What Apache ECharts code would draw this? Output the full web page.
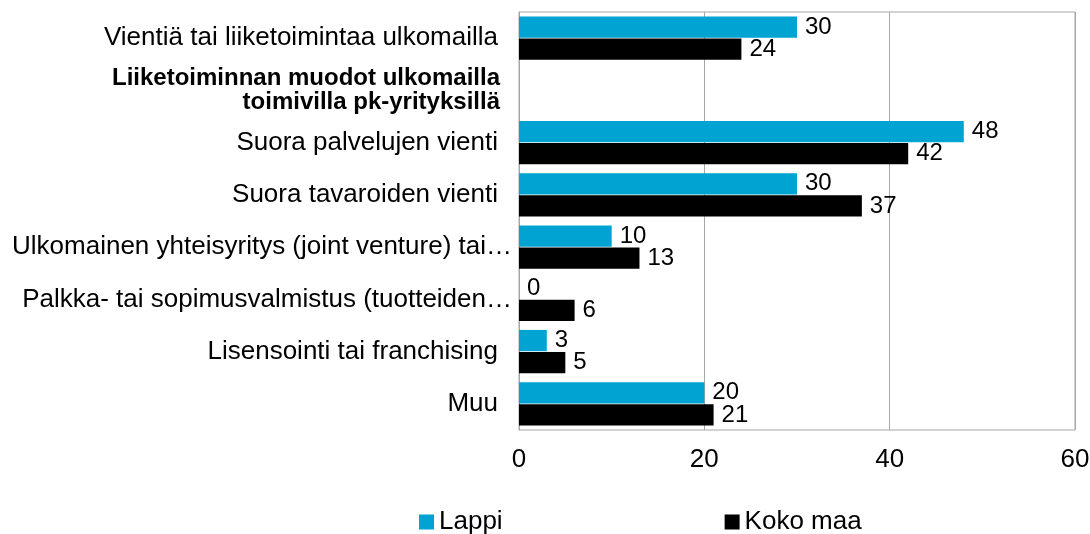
<!DOCTYPE html>
<html><head><meta charset="utf-8">
<script src="https://cdn.jsdelivr.net/npm/echarts@6/dist/echarts.min.js"></script>
<style>html,body{margin:0;padding:0;background:#fff}#c{width:1090px;height:534px}</style>
</head><body><div id="c"></div>
<script>
const categories = [
  "Vientiä tai liiketoimintaa ulkomailla",
  "Liiketoiminnan muodot ulkomailla\ntoimivilla pk-yrityksillä",
  "Suora palvelujen vienti",
  "Suora tavaroiden vienti",
  "Ulkomainen yhteisyritys (joint venture) tai…",
  "Palkka- tai sopimusvalmistus (tuotteiden…",
  "Lisensointi tai franchising",
  "Muu"
];
const lappi = [30, null, 48, 30, 10, 0, 3, 20];
const kokoMaa = [24, null, 42, 37, 13, 6, 5, 21];
const xTicks = [0, 20, 40, 60];

const font = "'Liberation Sans', Arial, sans-serif";
const chart = echarts.init(document.getElementById('c'));
const labelCfg = {show: true, position: 'right', distance: 8, fontSize: 24, color: '#000', fontFamily: font};
chart.setOption({
  animation: false,
  grid: {left: 519, right: 15, top: 12, bottom: 104, show: true, borderColor: '#a6a6a6', borderWidth: 1,
         containLabel: false, outerBoundsMode: 'none'},
  legend: {
    data: ['Lappi', 'Koko maa'], left: 414, top: 504, itemWidth: 15, itemHeight: 15, itemGap: 222,
    icon: 'rect', textStyle: {fontSize: 26, color: '#000', fontFamily: font}
  },
  xAxis: {
    type: 'value', min: xTicks[0], max: xTicks[xTicks.length - 1], interval: 20,
    axisLine: {show: false}, axisTick: {show: false},
    splitLine: {lineStyle: {color: '#a6a6a6', width: 1}},
    axisLabel: {fontSize: 26, color: '#000', fontFamily: font, margin: 17}
  },
  yAxis: {
    type: 'category', data: categories, inverse: true,
    axisLine: {lineStyle: {color: '#a6a6a6'}}, axisTick: {show: false},
    axisLabel: {
      margin: 6, fontSize: 26, color: '#000', fontFamily: font,
      formatter: function (v, i) {
        if (i === 1) return '{b|' + v + '}';
        if (v.endsWith('…')) return '{t|' + v + '}';
        return '{n|' + v + '}';
      },
      rich: {
        b: {fontWeight: 'bold', fontSize: 24, lineHeight: 24, fontFamily: font, color: '#000', align: 'right', padding: [0, 13, 0, 0]},
        n: {fontSize: 26, fontFamily: font, color: '#000', padding: [0, 15, 0, 0]},
        t: {fontSize: 26, fontFamily: font, color: '#000', padding: [0, 1, 0, 0]}
      }
    }
  },
  series: [
    {name: 'Lappi', type: 'bar', data: lappi, itemStyle: {color: '#00A3D1'}, barGap: '4%', barCategoryGap: '17%', label: labelCfg},
    {name: 'Koko maa', type: 'bar', data: kokoMaa, itemStyle: {color: '#000000'}, label: labelCfg}
  ]
});
</script></body></html>
